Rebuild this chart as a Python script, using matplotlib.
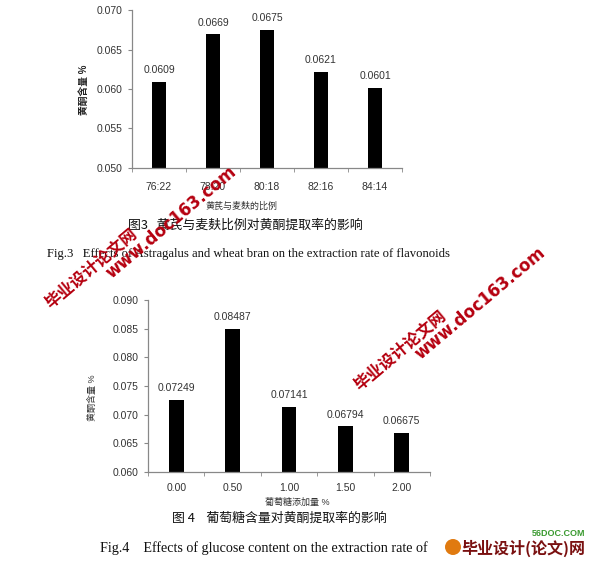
import matplotlib
matplotlib.use("Agg")
import matplotlib.pyplot as plt
from matplotlib.patches import Ellipse
import numpy as np

plt.rcParams['font.family'] = ['Liberation Sans', 'Noto Sans CJK SC', 'DejaVu Sans']

# ---- data ----
ratio_labels = ["76:22", "78:20", "80:18", "82:16", "84:14"]
ratio_values = [0.0609, 0.0669, 0.0675, 0.0621, 0.0601]
ratio_value_text = ["0.0609", "0.0669", "0.0675", "0.0621", "0.0601"]
ratio_yticks = [0.050, 0.055, 0.060, 0.065, 0.070]

glucose_labels = ["0.00", "0.50", "1.00", "1.50", "2.00"]
glucose_values = [0.07249, 0.08487, 0.07141, 0.06794, 0.06675]
glucose_value_text = ["0.07249", "0.08487", "0.07141", "0.06794", "0.06675"]
glucose_yticks = [0.060, 0.065, 0.070, 0.075, 0.080, 0.085, 0.090]

W, H = 593, 562
fig = plt.figure(figsize=(W / 100, H / 100), dpi=100)
fig.patch.set_facecolor('white')

def px_axes(l, t, r, b):
    return fig.add_axes([l / W, 1 - b / H, (r - l) / W, (b - t) / H])

def ftext(x, y, s, **kw):
    return fig.text(x / W, 1 - y / H, s, **kw)

def draw(ax, labels, values, texts, yticks, xpad):
    x = np.arange(len(labels))
    ax.bar(x, values, width=0.26, color='black', zorder=2)
    ax.set_xlim(-0.5, len(labels) - 0.5)
    ax.set_ylim(yticks[0], yticks[-1])
    ax.set_yticks(yticks)
    ax.set_yticklabels([f"{v:.3f}" for v in yticks], fontsize=7.5, color='#333333')
    ax.set_xticks(x)
    ax.set_xticklabels(labels, fontsize=7.5, color='#333333')
    ax.tick_params(axis='x', which='major', length=0, pad=xpad)
    ax.set_xticks(np.arange(-0.5, len(labels) + 0.5, 1.0), minor=True)
    ax.tick_params(axis='x', which='minor', length=3, color='#888888', direction='out')
    ax.tick_params(axis='y', length=3, color='#888888', direction='out', pad=4)
    for s in ['top', 'right']:
        ax.spines[s].set_visible(False)
    for s in ['left', 'bottom']:
        ax.spines[s].set_color('#888888')
        ax.spines[s].set_linewidth(0.9)
    for xi, v, t in zip(x, values, texts):
        ax.annotate(t, (xi, v), xytext=(0, 5), textcoords='offset points',
                    ha='center', va='bottom', fontsize=7.5, color='#333333')

ax1 = px_axes(132, 10, 402, 168)
draw(ax1, ratio_labels, ratio_values, ratio_value_text, ratio_yticks, 10)
ax2 = px_axes(148, 300, 430, 472)
draw(ax2, glucose_labels, glucose_values, glucose_value_text, glucose_yticks, 8)

# axis titles
ftext(84, 90, "黄酮含量 %", rotation=90, ha='center', va='center', fontsize=7, color='#222222', fontweight='bold')
ftext(242, 206, "黄芪与麦麸的比例", ha='center', va='center', fontsize=6.5, color='#333333')
ftext(92, 398, "黄酮含量 %", rotation=90, ha='center', va='center', fontsize=6.5, color='#333333')
ftext(297, 502, "葡萄糖添加量 %", ha='center', va='center', fontsize=6.5, color='#333333')

# captions
ftext(245, 225, "图3   黄芪与麦麸比例对黄酮提取率的影响", ha='center', va='center', fontsize=9.3,
      color='#111111', family=['Noto Sans CJK SC', 'DejaVu Sans'])
ftext(47, 254, "Fig.3   Effects of Astragalus and wheat bran on the extraction rate of flavonoids",
      ha='left', va='center', fontsize=9.05, color='#111111', family=['Liberation Serif'])
ftext(279, 518, "图 4    葡萄糖含量对黄酮提取率的影响", ha='center', va='center', fontsize=9.3,
      color='#111111', family=['Noto Sans CJK SC', 'DejaVu Sans'])
ftext(100, 548, "Fig.4    Effects of glucose content on the extraction rate of",
      ha='left', va='center', fontsize=10.2, color='#111111', family=['Liberation Serif'])

# site logo / watermarks
fig.patches.append(Ellipse((453 / W, 1 - 547 / H), 16 / W, 16 / H, transform=fig.transFigure,
                           facecolor='#e07a10', edgecolor='none'))
ftext(585, 548, "毕业设计(论文)网", ha='right', va='center', fontsize=11.5, color='#7a1010',
      fontweight='bold', family=['Noto Sans CJK SC', 'DejaVu Sans'])
ftext(585, 533, "56DOC.COM", ha='right', va='center', fontsize=6.5, color='#3a9a30', fontweight='bold')
wm_red = '#b5000f'
for cx, cy in [(91, 268), (400, 350)]:
    ftext(cx, cy, "毕业设计论文网", rotation=40, ha='center', va='center', fontsize=11.8,
          color=wm_red, fontweight='bold', family=['Noto Sans CJK SC', 'DejaVu Sans'],
          rotation_mode='anchor')
for cx, cy in [(171, 222), (480, 303)]:
    ftext(cx, cy, "www.doc163.com", rotation=40, ha='center', va='center', fontsize=12,
          color=wm_red, fontweight='bold', family=['DejaVu Sans'], rotation_mode='anchor')

fig.savefig("out.png", dpi=100, facecolor='white')
